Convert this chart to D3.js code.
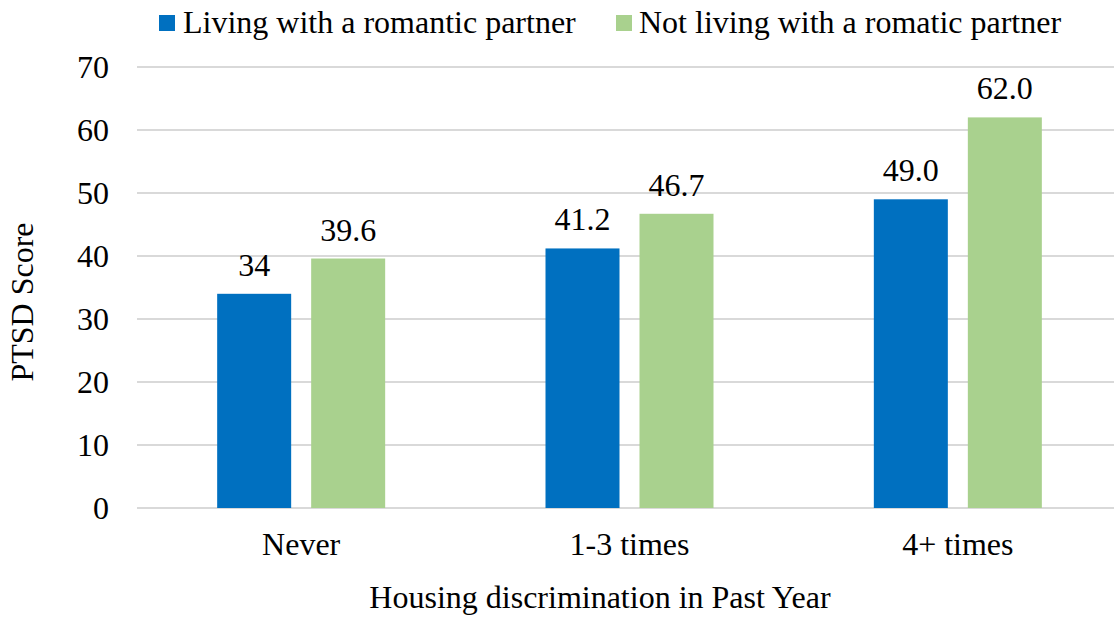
<!DOCTYPE html>
<html><head><meta charset="utf-8">
<script src="https://cdn.jsdelivr.net/npm/d3@7"></script>
<style>body{margin:0;background:#fff}svg{display:block}</style>
</head><body><svg id="c" width="1114" height="618"></svg>
<script>
const categories = ["Never", "1-3 times", "4+ times"];
const seriesNames = ["Living with a romantic partner", "Not living with a romatic partner"];
const living = [34, 41.2, 49.0];
const notLiving = [39.6, 46.7, 62.0];
const livingLabels = ["34", "41.2", "49.0"];
const notLivingLabels = ["39.6", "46.7", "62.0"];
const yTicks = [0, 10, 20, 30, 40, 50, 60, 70];
const colors = ["#0070C0", "#A9D18E"];

(function () {
const svg = d3.select("#c");
const FONT = '"Liberation Serif"';
const pLeft = 137, pRight = 1122, pTop = 67, pBottom = 508;
const y = d3.scaleLinear().domain([0, 70]).range([pBottom, pTop]);
const x0 = d3.scaleBand().domain(categories).range([pLeft, pRight]).paddingInner(0).paddingOuter(0);
const step = x0.step();
const barW = 74, gap = 20;
const fs = 32;
const txt = (sel) => sel.style("font-family", FONT).attr("font-size", fs).attr("fill", "#000");

svg.append("g").selectAll("line").data(yTicks).join("line")
  .attr("x1", pLeft).attr("x2", pRight)
  .attr("y1", d => y(d)).attr("y2", d => y(d))
  .attr("stroke", "#D9D9D9").attr("stroke-width", 2);

svg.append("g").selectAll("text").data(yTicks).join("text")
  .attr("x", 109).attr("y", d => y(d)).attr("dy", "0.35em")
  .attr("text-anchor", "end").call(txt).text(d => d);

const series = [living, notLiving];
const labels = [livingLabels, notLivingLabels];
series.forEach((vals, si) => {
  const g = svg.append("g");
  const bx = (c) => x0(c) + step / 2 - (barW * 2 + gap) / 2 + si * (barW + gap);
  g.selectAll("rect").data(categories).join("rect")
    .attr("x", (c) => bx(c))
    .attr("width", barW)
    .attr("y", (c, i) => y(vals[i]))
    .attr("height", (c, i) => y(0) - y(vals[i]))
    .attr("fill", colors[si]);
  g.selectAll("text").data(categories).join("text")
    .attr("x", (c) => bx(c) + barW / 2)
    .attr("y", (c, i) => y(vals[i]) - 18)
    .attr("text-anchor", "middle").call(txt)
    .text((c, i) => labels[si][i]);
});

svg.append("g").selectAll("text").data(categories).join("text")
  .attr("x", c => x0(c) + step / 2).attr("y", 555)
  .attr("text-anchor", "middle").call(txt).text(c => c);

svg.append("text").attr("x", 600).attr("y", 608).attr("text-anchor", "middle")
  .call(txt).text("Housing discrimination in Past Year");
svg.append("text").attr("transform", "translate(33,302) rotate(-90)")
  .attr("text-anchor", "middle").call(txt).text("PTSD Score");

const leg = [{x: 159, tx: 183}, {x: 616, tx: 639}];
seriesNames.forEach((n, i) => {
  svg.append("rect").attr("x", leg[i].x).attr("y", 15).attr("width", 16).attr("height", 16).attr("fill", colors[i]);
  svg.append("text").attr("x", leg[i].tx).attr("y", 33).call(txt).text(n);
});
})();
</script></body></html>
